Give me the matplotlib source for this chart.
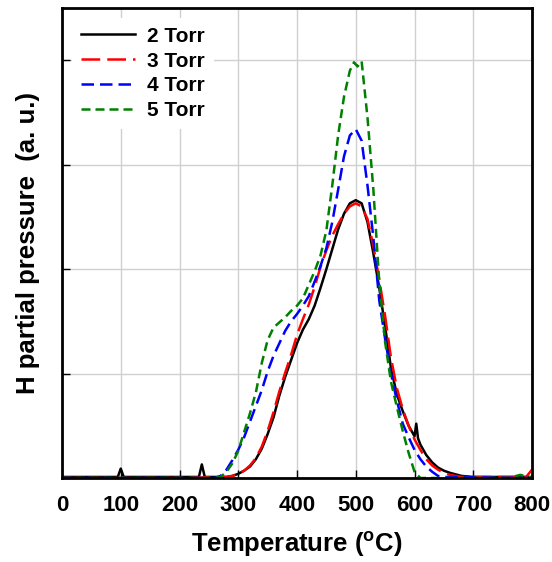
import matplotlib
matplotlib.use("Agg")
import matplotlib.pyplot as plt
import numpy as np

plt.rcParams.update({
    "font.family": ["Liberation Sans", "DejaVu Sans"],
    "font.weight": "bold",
    "mathtext.fontset": "custom",
    "mathtext.rm": "Liberation Sans:bold",
    "mathtext.bf": "Liberation Sans:bold",
})

# temperature (C) / H partial pressure (a.u.)
t_2torr = [0, 50, 95, 100, 105, 200, 233, 238, 243, 280, 290, 300, 310, 320, 330, 340,
           350, 360, 370, 380, 390, 400, 410, 420, 430, 440, 450, 460, 470, 480, 490,
           500, 510, 520, 530, 540, 550, 560, 570, 580, 590, 600, 603, 606, 610, 620,
           630, 640, 650, 660, 680, 700, 750, 800]
p_2torr = [0.01, 0.01, 0.01, 0.09, 0.01, 0.01, 0.01, 0.13, 0.01, 0.01, 0.02, 0.04, 0.07,
           0.11, 0.18, 0.28, 0.42, 0.58, 0.79, 0.97, 1.13, 1.29, 1.42, 1.52, 1.65, 1.82,
           2.00, 2.19, 2.38, 2.53, 2.63, 2.66, 2.63, 2.45, 2.15, 1.82, 1.45, 1.05, 0.80,
           0.64, 0.50, 0.40, 0.52, 0.38, 0.32, 0.22, 0.15, 0.10, 0.07, 0.05, 0.02, 0.01,
           0.01, 0.01]

t_3torr = [0, 200, 280, 290, 300, 310, 320, 330, 340, 350, 360, 370, 380, 390, 400, 410,
           420, 430, 440, 450, 460, 470, 480, 490, 500, 510, 520, 530, 540, 550, 560, 570,
           580, 590, 600, 610, 620, 630, 640, 650, 660, 680, 790, 800]
p_3torr = [0.0, 0.0, 0.01, 0.02, 0.04, 0.07, 0.12, 0.19, 0.30, 0.45, 0.63, 0.83, 1.01,
           1.18, 1.37, 1.52, 1.66, 1.83, 2.02, 2.18, 2.32, 2.43, 2.53, 2.60, 2.63, 2.60,
           2.48, 2.22, 1.90, 1.55, 1.15, 0.86, 0.66, 0.50, 0.37, 0.27, 0.18, 0.12, 0.08,
           0.05, 0.03, 0.01, 0.01, 0.08]

t_4torr = [0, 200, 260, 270, 280, 290, 300, 310, 320, 330, 340, 350, 360, 370, 380, 390,
           400, 410, 420, 430, 440, 450, 460, 470, 480, 490, 500, 510, 520, 530, 540, 550,
           560, 570, 580, 590, 600, 610, 620, 630, 640, 650, 800]
p_4torr = [0.0, 0.0, 0.0, 0.02, 0.08, 0.17, 0.27, 0.39, 0.54, 0.69, 0.84, 1.02, 1.17,
           1.29, 1.41, 1.50, 1.57, 1.65, 1.74, 1.88, 2.03, 2.20, 2.45, 2.76, 3.08, 3.28,
           3.34, 3.23, 2.80, 2.30, 1.70, 1.33, 1.00, 0.74, 0.52, 0.39, 0.27, 0.18, 0.11,
           0.06, 0.02, 0.01, 0.0]

t_5torr = [0, 200, 260, 270, 280, 290, 300, 310, 320, 330, 340, 350, 360, 370, 380, 390,
           400, 410, 420, 430, 440, 450, 460, 470, 480, 490, 497, 503, 510, 520, 530, 540,
           550, 560, 570, 580, 590, 600, 610, 760, 780, 800]
p_5torr = [0.0, 0.0, 0.0, 0.01, 0.06, 0.14, 0.26, 0.44, 0.62, 0.82, 1.10, 1.32, 1.44,
           1.49, 1.54, 1.60, 1.65, 1.72, 1.85, 1.98, 2.13, 2.37, 2.80, 3.28, 3.65, 3.90,
           3.98, 3.94, 3.99, 3.45, 2.76, 1.88, 1.30, 0.92, 0.68, 0.45, 0.24, 0.06, 0.0,
           0.0, 0.03, 0.0]

x_ticks = [0, 100, 200, 300, 400, 500, 600, 700, 800]

fig = plt.figure(figsize=(5.52, 5.62), dpi=100)
ax = fig.add_axes([62 / 552, 84 / 562, 470 / 552, 470 / 562])

ax.plot(t_2torr, p_2torr, color="black", lw=1.8, label="2 Torr")
ax.plot(t_3torr, p_3torr, color="red", lw=1.8, dashes=(7.5, 2.8), label="3 Torr")
ax.plot(t_4torr, p_4torr, color="blue", lw=1.8, dashes=(5, 2.4), label="4 Torr")
ax.plot(t_5torr, p_5torr, color="green", lw=1.8, dashes=(3.6, 2.0), label="5 Torr")

ax.set_xlim(0, 800)
ax.set_ylim(0, 4.5)
ax.set_xticks(x_ticks)
ax.set_yticks([0, 1, 2, 3, 4])
ax.set_yticklabels([])
ax.grid(True, color="#d0d0d0", lw=1.0)
ax.set_axisbelow(True)
ax.tick_params(axis="both", direction="in", length=6, width=1, labelsize=16, pad=12)

for s in ax.spines.values():
    s.set_linewidth(2)

ax.set_xlabel(r"Temperature ($^\mathrm{o}$C)", fontsize=18.5, fontweight="bold", labelpad=10)
ax.set_ylabel("H partial pressure  (a. u.)", fontsize=18.5, fontweight="bold", labelpad=4)

leg = ax.legend(loc="upper left", frameon=True, fontsize=15, handlelength=2.6,
                handletextpad=0.6, labelspacing=0.28, borderaxespad=0.5,
                bbox_to_anchor=(0.0, 1.0))
leg.get_frame().set_edgecolor("none")
leg.get_frame().set_facecolor("white")
leg.get_frame().set_alpha(1.0)

fig.savefig("out.png", dpi=100)
